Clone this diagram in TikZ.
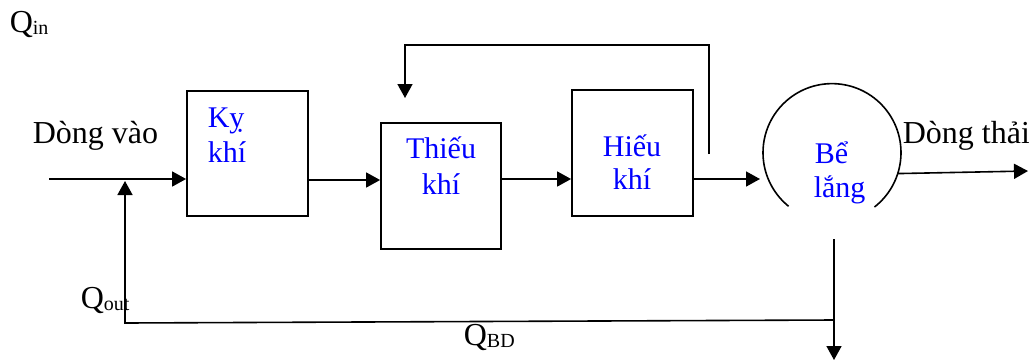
\documentclass[tikz,border=0pt]{standalone}
\usepackage{fontspec}
\setmainfont{Liberation Serif}
\usetikzlibrary{arrows.meta}
\definecolor{txtblue}{RGB}{0,0,255}
\begin{document}
\begin{tikzpicture}[x=1pt,y=1pt,
  line width=1.6pt,
  arr/.style={-{Triangle[length=14pt,width=15pt]}},
  tank/.style={draw, rectangle, inner sep=0pt, line width=1.8pt},
  lbl/.style={inner sep=0pt, font=\fontsize{32}{32}\selectfont},
  blbl/.style={inner sep=0pt, font=\fontsize{30}{30}\selectfont, text=txtblue},
]
\useasboundingbox (0,0) rectangle (1029,-360);
% tanks
\node[tank, minimum width=121pt, minimum height=125pt] (ky) at (247.5,-153.5) {};
\node[tank, minimum width=120pt, minimum height=126pt] (thieu) at (441,-186) {};
\node[tank, minimum width=121pt, minimum height=126pt] (hieu) at (632.5,-153) {};
\node[circle, minimum size=138pt, inner sep=0pt] (bl) at (831.5,-152) {};
\draw[line width=1.6pt] (bl.-52) arc[start angle=-52, end angle=231, radius=69pt];
% tank labels
\node[blbl, anchor=base west] (kyA) at (207,-127) {Kỵ};
\node[blbl, anchor=base west] (kyB) at (207,-162) {khí};
\node[blbl, anchor=base] (thA) at (441,-158) {Thiếu};
\node[blbl, anchor=base] (thB) at (441,-194) {khí};
\node[blbl, anchor=base] (hiA) at (632,-156) {Hiếu};
\node[blbl, anchor=base] (hiB) at (632,-189) {khí};
\node[blbl, anchor=base west] (blA) at (814,-163) {Bể};
\node[blbl, anchor=base west] (blB) at (813,-197) {lắng};
% other labels
\node[lbl, anchor=base west] (qin) at (9,-32) {Q\raisebox{-2pt}{\fontsize{20}{20}\selectfont in}};
\node[lbl, anchor=base west] (dv) at (32,-143) {Dòng vào};
\node[lbl, anchor=base west] (dt) at (902,-143) {Dòng thải};
\node[lbl, anchor=base west] (qout) at (80,-308) {Q\raisebox{-2pt}{\fontsize{20}{20}\selectfont out}};
\node[lbl, anchor=base west] (qbd) at (463,-345) {Q\raisebox{-2pt}{\fontsize{20}{20}\selectfont BD}};
% connectors
\coordinate (in) at (49,-179);
\draw[arr] (in) -- (in -| ky.west);
\draw[arr] (ky.east |- 0,-180) -- (thieu.west |- 0,-180);
\draw[arr] (thieu.east |- 0,-179) -- (hieu.west |- 0,-179);
\coordinate (blin) at (760,-179);
\draw[arr] (hieu.east |- blin) -- (blin);
\coordinate (out) at (1028,-171);
\draw[arr] (bl.-18) -- (out);
% internal recycle
\coordinate (rs) at (709,-154);
\coordinate (rt) at (405,-98);
\draw[arr] (rs) -- (rs |- 0,-45) -- (rt |- 0,-45) -- (rt);
% sludge line
\coordinate (sl) at (834,-239);
\coordinate (sb) at (834,-360);
\coordinate (sj) at (834,-320);
\coordinate (rc) at (125,-323);
\coordinate (rtip) at (125,-181);
\draw[arr] (sl) -- (sb);
\draw[arr] (sj) -- (rc) -- (rtip);
\end{tikzpicture}
\end{document}
